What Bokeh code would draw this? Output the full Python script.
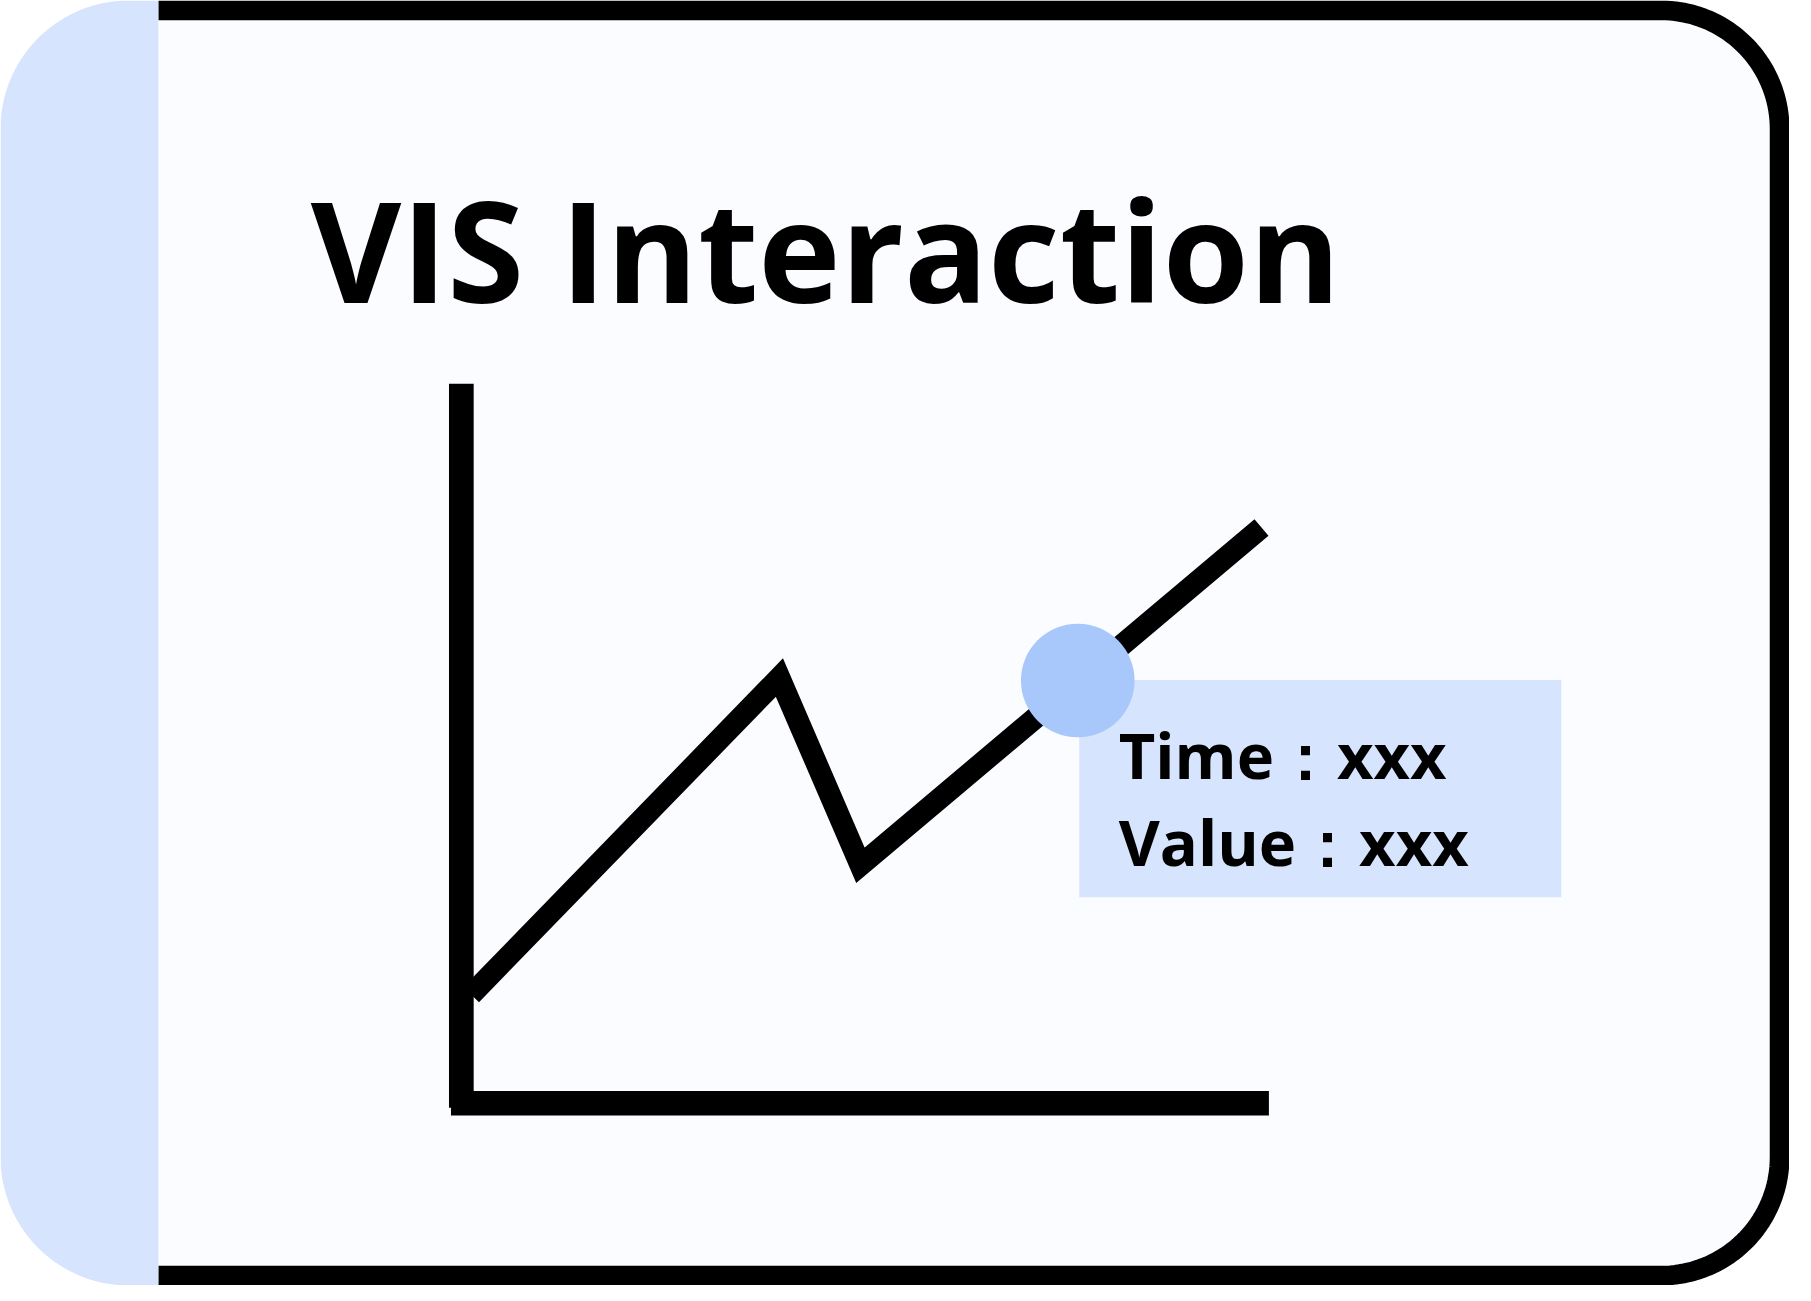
import numpy as np
from bokeh.plotting import figure
from bokeh.models import Range1d
from bokeh.core.properties import value
from bokeh.embed import file_html
from bokeh.resources import INLINE

# ---- data (time / value of the sketched series) ----
times = [10, 322, 404, 810]
values = [110, 431, 241, 583]
hover_time = [624]
hover_value = [428]
title_text = ["VIS Interaction"]
tooltip_lines = ["Time：xxx", "Value：xxx"]

# ---- canvas geometry (reference pixel units, y down) ----
W, H = 1811, 1301
X0, Y0 = 466.5, 1116.5          # pixel position of the chart origin
S = min(1795 / W, 1285 / H)     # fit to the window
PW, PH = int(round(W * S)), int(round(H * S))
FONT = "Open Sans"

def fx(xp):
    return np.asarray(xp, dtype=float) - X0

def fy(yp):
    return Y0 - np.asarray(yp, dtype=float)

p = figure(width=PW, height=PH, output_backend="svg", toolbar_location=None,
           x_range=Range1d(-X0, W - X0), y_range=Range1d(-(H - Y0), Y0),
           min_border=0, x_axis_type=None, y_axis_type=None)
p.grid.visible = False
p.outline_line_color = None
p.background_fill_color = "#ffffff"
p.border_fill_color = "#ffffff"

R = 130
STRIP = 160
BW = 20

def arc(cx, cy, r, a0, a1, n=40):
    a = np.linspace(a0, a1, n)
    return cx + r * np.cos(a), cy + r * np.sin(a)

# left blue strip with rounded left corners (pixel coords, y down)
ax1, ay1 = arc(R, R, R, np.pi * 1.5, np.pi, 40)
ax2, ay2 = arc(R, H - R, R, np.pi, np.pi * 0.5, 40)
sx = np.concatenate([[STRIP], ax1, ax2, [STRIP]])
sy = np.concatenate([[0], ay1, ay2, [H]])
p.patch(fx(sx), fy(sy), fill_color="#d6e4fd", line_color=None)

# main panel with rounded right corners
bx1, by1 = arc(W - R, R, R, np.pi * 1.5, np.pi * 2, 40)
bx2, by2 = arc(W - R, H - R, R, 0, np.pi * 0.5, 40)
mx = np.concatenate([[STRIP], bx1, bx2, [STRIP]])
my = np.concatenate([[0], by1, by2, [H]])
p.patch(fx(mx), fy(my), fill_color="#fafcff", line_color=None)

# black border (top, right, bottom)
rr = R - BW / 2
cx1, cy1 = arc(W - R, R, rr, np.pi * 1.5, np.pi * 2, 40)
cx2, cy2 = arc(W - R, H - R, rr, 0, np.pi * 0.5, 40)
kx = np.concatenate([[STRIP], cx1, cx2, [STRIP]])
ky = np.concatenate([[BW / 2], cy1, cy2, [H - BW / 2]])
p.line(fx(kx), fy(ky), line_color="#000000", line_width=BW * S,
       line_join="round", line_cap="butt")

# axes of the sketched chart
AXW = 25 * S
p.line([0, 0], [-4.5, 728.5], line_color="#000000", line_width=AXW, line_cap="butt")
p.line([-10.5, 817.5], [0, 0], line_color="#000000", line_width=AXW, line_cap="butt")

# the series line
p.line(times, values, line_color="#000000", line_width=22 * S,
       line_join="miter", line_cap="butt")

# tooltip box anchored at hovered point
p.quad(left=[hover_time[0] + 1.5], right=[hover_time[0] + 489.5],
       top=[hover_value[0] + 0.5], bottom=[hover_value[0] - 219.5],
       fill_color="#d6e4fd", line_color=None)

# hovered point
p.circle(hover_time, hover_value, radius=57.5, fill_color="#a8c8fc", line_color=None)

# tooltip text
TF = 64
p.text([hover_time[0] + 41.5] * 2,
       [hover_value[0] - 97.5 + 0.36 * TF, hover_value[0] - 186.5 + 0.36 * TF],
       text=tooltip_lines, text_font=value(FONT), text_font_style="bold",
       text_font_size=f"{TF * S:.1f}px", text_color="#000000",
       text_baseline="alphabetic", text_align="left")

# title
TT = 141
p.text(fx([314]), fy([304 - 0.37 * TT]), text=title_text, text_font=value(FONT),
       text_font_style="bold", text_font_size=f"{TT * S:.1f}px",
       text_color="#000000", text_baseline="alphabetic", text_align="left")

open("out.html", "w").write(file_html(p, INLINE))
